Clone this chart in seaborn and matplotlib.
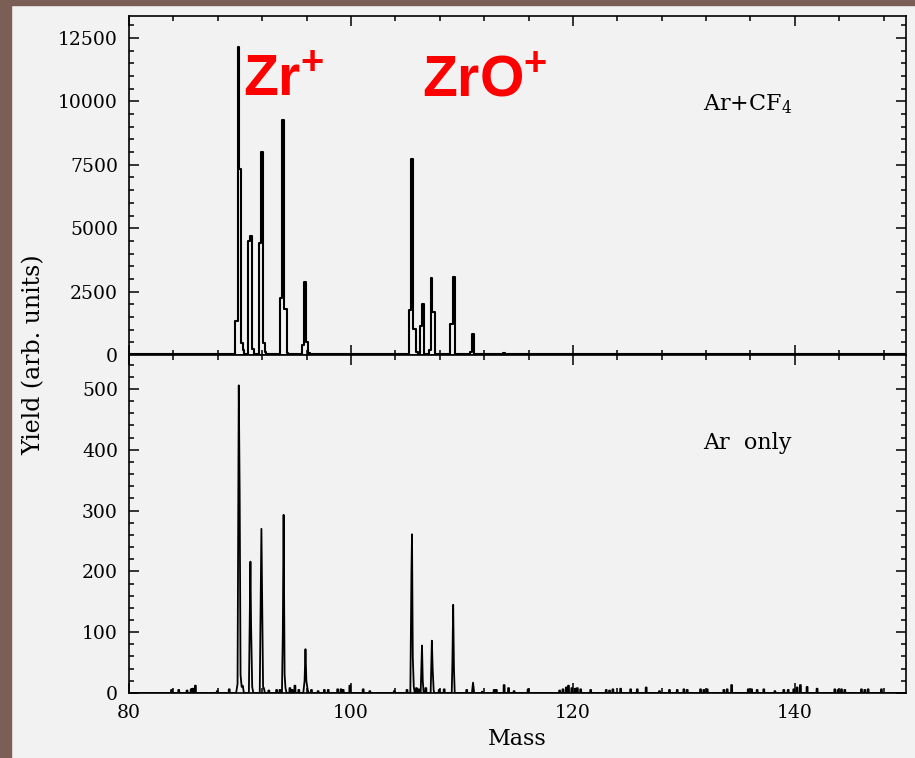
import matplotlib
matplotlib.use('Agg')
import matplotlib.pyplot as plt
import seaborn as sns
from matplotlib.ticker import MultipleLocator
from matplotlib.patches import Rectangle

# Ar+CF4 spectrum (step levels start at each mass value)
cf4_mass = [80.00, 89.52, 89.78, 89.95, 90.12, 90.27, 90.40,
            90.72, 90.88, 91.12, 91.22,
            91.69, 91.87, 92.04, 92.23, 92.38,
            93.57, 93.83, 94.00, 94.26, 94.36,
            95.62, 95.80, 95.97, 96.14, 96.30,
            105.23, 105.45, 105.62, 105.86, 106.00,
            106.19, 106.39, 106.56,
            107.03, 107.17, 107.34, 107.60,
            108.94, 109.17, 109.34,
            110.73, 110.95, 111.12,
            113.70, 113.90, 150.00]
cf4_yield = [20, 1340, 12160, 7320, 470, 200, 30,
             4510, 4690, 230, 30,
             4400, 8020, 470, 100, 30,
             2260, 9270, 1810, 60, 30,
             380, 2890, 500, 80, 20,
             1770, 7720, 1010, 130, 20,
             1140, 2010, 40,
             200, 3050, 1700, 40,
             1220, 3090, 40,
             130, 820, 30,
             90, 20, 20]

# Ar only spectrum: peak profiles
ar_mass = [80.00,
           89.65, 89.78, 89.89, 89.97, 90.05, 90.15, 90.25, 90.35,
           90.80, 90.94, 91.00, 91.10, 91.20,
           91.78, 91.93, 91.99, 92.08, 92.15, 92.25,
           93.78, 93.86, 93.93, 94.02, 94.10, 94.20,
           95.70, 95.82, 95.90, 95.98, 96.10, 96.20,
           105.35, 105.45, 105.50, 105.57, 105.66, 105.75,
           106.28, 106.34, 106.40, 106.47, 106.55,
           107.18, 107.29, 107.36, 107.45, 107.50,
           109.08, 109.14, 109.21, 109.28, 109.35,
           110.90, 111.00, 111.10,
           150.00]
ar_yield = [0,
            0, 15, 506, 329, 30, 10, 12, 0,
            0, 216, 110, 10, 0,
            0, 270, 164, 10, 8, 0,
            0, 100, 293, 30, 8, 0,
            0, 20, 72, 20, 5, 0,
            0, 200, 261, 60, 10, 0,
            0, 40, 78, 20, 0,
            0, 86, 40, 5, 0,
            0, 50, 145, 40, 0,
            0, 17, 0,
            0]

# Ar only spectrum: small background counts
noise_mass = [83.83, 84.48, 85.23, 85.60, 85.75, 85.98, 87.95, 89.03,
              92.60, 93.30, 93.60, 94.50, 94.70, 94.95, 95.30, 96.44,
              97.04, 97.60, 97.95, 98.80, 99.10, 99.30, 99.90, 101.10,
              101.70, 103.90, 105.05, 105.90, 106.10, 106.75, 107.95,
              108.40, 110.43, 111.84, 112.90, 113.10, 113.80, 114.20,
              114.70, 115.96, 118.80, 119.10, 119.40, 119.60, 119.90,
              120.20, 120.40, 120.70, 121.60, 123.00, 123.30, 123.60,
              124.30, 125.20, 125.80, 126.60, 127.80, 128.70, 129.40,
              130.00, 130.30, 131.50, 131.80, 132.10, 133.60, 133.90,
              134.30, 135.80, 136.10, 136.60, 137.20, 138.20, 139.00,
              139.40, 139.90, 140.20, 140.50, 141.10, 142.00, 143.60,
              143.90, 144.20, 144.50, 146.00, 146.30, 146.60, 147.80]
noise_yield = [5, 5, 4, 6, 7, 12, 3, 6,
               4, 5, 5, 8, 5, 12, 5, 5,
               3, 5, 5, 6, 6, 5, 12, 6,
               3, 3, 5, 8, 6, 8, 5,
               6, 5, 2, 5, 5, 13, 8,
               3, 6, 4, 6, 9, 12, 8,
               7, 8, 6, 5, 5, 4, 6,
               7, 6, 6, 9, 3, 5, 5,
               6, 5, 6, 5, 6, 5, 6,
               13, 6, 6, 5, 6, 3, 5,
               5, 6, 9, 13, 10, 7, 6,
               5, 6, 5, 6, 5, 6, 6]

bg = '#f2f2f2'
brown = '#7b5f57'

sns.set_theme(style='ticks', rc={'axes.facecolor': bg, 'figure.facecolor': bg,
                                 'axes.edgecolor': 'black', 'axes.linewidth': 1.2,
                                 'text.color': 'black', 'axes.labelcolor': 'black',
                                 'xtick.color': 'black', 'ytick.color': 'black'})
plt.rcParams['font.family'] = ['DejaVu Serif']
plt.rcParams['mathtext.fontset'] = 'custom'
plt.rcParams['mathtext.rm'] = 'DejaVu Serif'
plt.rcParams['mathtext.sf'] = 'Liberation Sans:bold'

fig = plt.figure(figsize=(9.15, 7.58), dpi=100)
fig.patches.append(Rectangle((0, 0), 0.012, 1, transform=fig.transFigure,
                             color=brown, zorder=-1))
fig.patches.append(Rectangle((0, 0.9934), 1, 0.0066, transform=fig.transFigure,
                             color=brown, zorder=-1))

ax1 = fig.add_axes([0.141, 0.5317, 0.849, 0.4472])
ax2 = fig.add_axes([0.141, 0.0858, 0.849, 0.4459], sharex=ax1)

# top panel: step spectrum
sns.lineplot(x=cf4_mass, y=cf4_yield, ax=ax1, color='black', lw=1.5,
             drawstyle='steps-post', estimator=None, sort=False)

# bottom panel: merge peak profile with background spikes
pts = list(zip(ar_mass, ar_yield))
for m, h in zip(noise_mass, noise_yield):
    pts += [(m - 0.05, 0), (m - 0.04, h), (m + 0.04, h), (m + 0.05, 0)]
pts.sort()
sns.lineplot(x=[p[0] for p in pts], y=[p[1] for p in pts], ax=ax2,
             color='black', lw=1.3, estimator=None, sort=False)

ax1.set_xlim(80, 150)
ax1.set_ylim(0, 13370)
ax2.set_ylim(0, 556)

for ax in (ax1, ax2):
    ax.xaxis.set_major_locator(MultipleLocator(20))
    ax.xaxis.set_minor_locator(MultipleLocator(4))
    ax.tick_params(which='both', direction='in', top=True, right=True,
                   width=1.1, colors='black', labelsize=13.5)
    ax.tick_params(which='major', length=7)
    ax.tick_params(which='minor', length=3.5)
    ax.tick_params(axis='y', pad=8)
    ax.tick_params(axis='x', pad=8)
    ax.set_ylabel('')
    for s in ax.spines.values():
        s.set_linewidth(1.2)

ax1.yaxis.set_major_locator(MultipleLocator(2500))
ax1.yaxis.set_minor_locator(MultipleLocator(500))
ax2.yaxis.set_major_locator(MultipleLocator(100))
ax2.yaxis.set_minor_locator(MultipleLocator(20))
ax1.tick_params(labelbottom=False)

ax2.set_xlabel('Mass', fontsize=16, labelpad=4)
fig.text(0.037, 0.5317, 'Yield (arb. units)', rotation=90, ha='center',
         va='center', fontsize=17)

ax1.text(0.739, 0.7207, r'Ar+CF$_4$', transform=ax1.transAxes, fontsize=16,
         ha='left', va='baseline')
ax2.text(0.739, 0.721, 'Ar  only', transform=ax2.transAxes, fontsize=16,
         ha='left', va='baseline')

ax1.text(0.1467, 0.764, r'$\mathsf{Zr^{+}}$', transform=ax1.transAxes,
         fontsize=41, color='red', ha='left', va='baseline')
ax1.text(0.377, 0.764, r'$\mathsf{ZrO^{+}}$', transform=ax1.transAxes,
         fontsize=41, color='red', ha='left', va='baseline')

fig.savefig('out.png', dpi=100, facecolor=bg)
